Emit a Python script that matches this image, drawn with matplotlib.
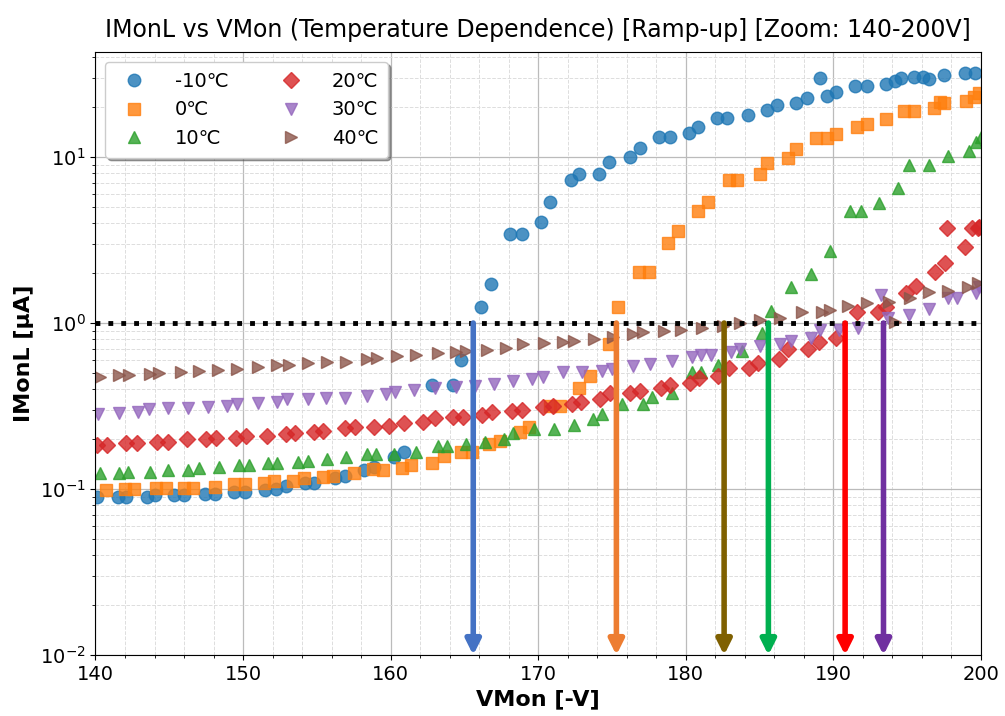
import matplotlib
matplotlib.use("Agg")
import matplotlib.pyplot as plt
from matplotlib.ticker import AutoMinorLocator

# -10C
v_m10 = [140.07, 141.5, 142.1, 143.5, 144.06, 145.3, 146.0, 147.4, 148.1, 149.4, 150.1, 151.5, 152.2, 152.9,
         154.2, 154.8, 156.2, 156.9, 158.2, 158.9, 160.2, 160.9, 162.8, 164.2, 164.8, 166.1, 166.8, 168.1,
         168.9, 170.2, 170.8, 172.2, 172.8, 174.1, 174.8, 176.2, 176.9, 178.2, 178.9, 180.2, 180.8, 182.1,
         182.8, 184.2, 185.5, 186.2, 187.5, 188.2, 189.1, 189.6, 190.2, 191.5, 192.3, 193.6, 194.2, 194.6,
         195.5, 196.1, 196.5, 197.5, 198.9, 199.6]
i_m10 = [0.0895, 0.0895, 0.0895, 0.0895, 0.092, 0.092, 0.092, 0.0933, 0.0933, 0.096, 0.096, 0.099, 0.100, 0.104,
         0.109, 0.109, 0.116, 0.120, 0.130, 0.136, 0.156, 0.167, 0.423, 0.423, 0.598, 1.25, 1.72, 3.44,
         3.44, 4.06, 5.36, 7.27, 7.9, 7.9, 9.3, 10.0, 11.3, 13.2, 13.2, 13.9, 15.1, 17.2,
         17.2, 17.9, 19.2, 20.5, 21.1, 22.7, 29.9, 23.3, 24.7, 26.8, 26.8, 27.5, 28.7, 29.9,
         30.4, 30.4, 29.6, 31.2, 32.1, 32.1]

# 0C
v_0 = [140.7, 142.0, 142.6, 144.1, 144.8, 146.0, 146.6, 148.1, 149.4, 150.1, 151.4, 152.1, 153.4, 154.1,
       155.4, 156.1, 157.5, 158.8, 159.5, 160.8, 161.4, 162.8, 163.6, 164.8, 165.5, 166.7, 167.4, 168.8,
       169.4, 170.8, 171.5, 172.8, 173.5, 174.8, 175.4, 176.8, 177.5, 178.8, 179.5, 180.8, 181.5, 182.9,
       183.5, 185.0, 185.5, 186.9, 187.5, 188.8, 189.6, 190.2, 191.6, 192.3, 193.6, 194.8, 195.5, 196.8,
       197.2, 197.5, 199.0, 199.5, 199.9]
i_0 = [0.0986, 0.100, 0.100, 0.101, 0.101, 0.101, 0.101, 0.103, 0.107, 0.107, 0.109, 0.112, 0.112, 0.116,
       0.118, 0.120, 0.125, 0.132, 0.130, 0.134, 0.139, 0.144, 0.158, 0.167, 0.167, 0.187, 0.195, 0.221,
       0.236, 0.316, 0.316, 0.406, 0.479, 0.747, 1.25, 2.03, 2.03, 3.03, 3.59, 4.73, 5.36, 7.27,
       7.27, 7.9, 9.2, 9.9, 11.2, 13.0, 13.0, 13.8, 15.1, 15.8, 16.9, 18.9, 18.9, 19.7,
       21.5, 21.1, 21.7, 23.0, 24.3]

# 10C
v_10 = [140.3, 141.6, 142.2, 143.7, 144.9, 146.3, 147.0, 148.4, 149.7, 150.4, 151.7, 152.3, 153.7, 154.4,
        155.7, 157.0, 158.4, 159.0, 160.2, 161.7, 163.2, 163.8, 165.1, 166.4, 167.7, 168.3, 169.7, 171.1,
        172.4, 173.7, 174.3, 175.7, 177.1, 177.7, 179.1, 180.4, 181.0, 182.2, 183.8, 185.2, 185.8, 187.1,
        188.5, 189.8, 191.1, 191.9, 193.1, 194.4, 195.1, 196.5, 197.8, 199.2, 199.7, 200.0]
i_10 = [0.125, 0.125, 0.127, 0.127, 0.130, 0.130, 0.134, 0.136, 0.140, 0.140, 0.143, 0.143, 0.146, 0.148,
        0.152, 0.156, 0.162, 0.162, 0.162, 0.167, 0.182, 0.182, 0.187, 0.192, 0.200, 0.218, 0.230, 0.230,
        0.243, 0.264, 0.283, 0.325, 0.325, 0.358, 0.379, 0.507, 0.507, 0.558, 0.678, 0.87, 1.18, 1.65,
        1.97, 2.71, 4.73, 4.73, 5.28, 6.5, 8.95, 8.95, 10.1, 10.8, 12.3, 13.2]

# 20C
v_20 = [140.1, 140.8, 142.1, 142.8, 144.2, 144.9, 146.2, 147.5, 148.2, 149.5, 150.2, 151.6, 152.9, 153.5,
        154.8, 155.4, 156.9, 157.6, 158.9, 159.9, 160.9, 162.2, 163.0, 164.2, 164.9, 166.2, 166.9, 168.2,
        168.9, 170.3, 171.0, 172.3, 172.9, 174.2, 174.9, 176.2, 176.9, 178.3, 178.9, 180.3, 180.9, 182.2,
        182.9, 184.3, 184.9, 186.3, 186.9, 188.3, 189.0, 190.2, 191.6, 193.0, 193.6, 194.9, 195.6, 196.9,
        197.6, 197.7, 198.9, 199.4, 199.8, 199.9]
i_20 = [0.184, 0.184, 0.189, 0.189, 0.192, 0.192, 0.200, 0.200, 0.203, 0.203, 0.209, 0.209, 0.214, 0.217,
        0.220, 0.224, 0.233, 0.236, 0.236, 0.240, 0.250, 0.253, 0.268, 0.272, 0.272, 0.279, 0.291, 0.295,
        0.299, 0.312, 0.316, 0.325, 0.334, 0.348, 0.379, 0.379, 0.389, 0.406, 0.423, 0.435, 0.466, 0.479,
        0.536, 0.536, 0.574, 0.607, 0.697, 0.697, 0.768, 0.812, 1.165, 1.165, 1.25, 1.52, 1.67, 2.03,
        2.30, 3.74, 2.87, 3.74, 3.74, 3.79]

# 30C
v_30 = [140.2, 141.6, 142.9, 143.6, 144.9, 146.3, 147.6, 148.9, 149.6, 151.0, 152.3, 153.0, 154.4, 155.6,
        156.9, 158.4, 159.7, 160.3, 161.6, 163.0, 164.4, 165.7, 167.0, 168.3, 169.6, 170.3, 171.7, 173.0,
        174.3, 175.0, 176.4, 177.6, 179.1, 180.4, 181.0, 181.7, 183.1, 183.7, 185.0, 186.4, 187.1, 188.5,
        189.1, 190.4, 191.7, 193.2, 193.7, 195.1, 196.5, 197.8, 198.4, 199.7, 199.9]
i_30 = [0.283, 0.287, 0.291, 0.304, 0.308, 0.308, 0.312, 0.316, 0.325, 0.330, 0.334, 0.348, 0.348, 0.353,
        0.353, 0.363, 0.373, 0.384, 0.395, 0.406, 0.412, 0.418, 0.429, 0.447, 0.460, 0.473, 0.507, 0.507,
        0.514, 0.528, 0.551, 0.566, 0.590, 0.624, 0.641, 0.641, 0.669, 0.697, 0.727, 0.747, 0.779, 0.812,
        0.907, 0.907, 0.933, 1.47, 1.07, 1.12, 1.21, 1.41, 1.41, 1.52, 1.65]

# 40C
v_40 = [140.3, 141.6, 142.3, 143.7, 144.3, 145.8, 147.0, 148.3, 149.6, 151.0, 152.3, 153.1, 154.4, 155.7,
        157.0, 158.4, 159.1, 160.4, 161.7, 163.2, 164.4, 165.1, 166.5, 167.8, 169.0, 170.4, 171.7, 172.4,
        173.8, 175.1, 176.4, 177.1, 178.5, 179.7, 181.1, 182.5, 183.7, 185.0, 186.4, 187.9, 189.2, 189.8,
        191.0, 192.3, 193.8, 194.2, 195.2, 196.5, 197.8, 199.1, 199.8]
i_40 = [0.473, 0.486, 0.486, 0.493, 0.500, 0.507, 0.514, 0.521, 0.528, 0.543, 0.558, 0.558, 0.574, 0.582,
        0.582, 0.607, 0.615, 0.633, 0.641, 0.659, 0.669, 0.678, 0.688, 0.707, 0.747, 0.758, 0.768, 0.779,
        0.801, 0.823, 0.858, 0.883, 0.895, 0.907, 0.933, 0.959, 1.0, 1.04, 1.07, 1.16, 1.16, 1.20,
        1.27, 1.32, 1.34, 1.01, 1.41, 1.54, 1.56, 1.65, 1.74]

labels = ["-10℃", "0℃", "10℃", "20℃", "30℃", "40℃"]
markers = ["o", "s", "^", "D", "v", ">"]
series = [(v_m10, i_m10), (v_0, i_0), (v_10, i_10), (v_20, i_20), (v_30, i_30), (v_40, i_40)]

# breakdown voltages at 1 uA
vbd = [165.6, 175.3, 182.6, 185.6, 190.8, 193.4]
vbd_colors = ["#4472C4", "#ED7D31", "#7F6000", "#00B050", "#FF0000", "#7030A0"]

fig, ax = plt.subplots(figsize=(10.05, 7.16), dpi=100)
fig.subplots_adjust(left=0.095, right=0.976, top=0.927, bottom=0.085)

colors = plt.rcParams['axes.prop_cycle'].by_key()['color']
for k, (v, i) in enumerate(series):
    ms = 8 if markers[k] in ("s", "D") else 9
    ax.plot(v, i, linestyle="none", marker=markers[k], ms=ms, color=colors[k],
            alpha=0.8, label=labels[k])

ax.axhline(1.0, color="black", linestyle=":", linewidth=3.5)

for x, c in zip(vbd, vbd_colors):
    ax.annotate("", xy=(x, 0.01), xytext=(x, 1.0),
                arrowprops=dict(arrowstyle="-|>", color=c, lw=4, mutation_scale=22,
                                shrinkA=0, shrinkB=0))

ax.set_yscale("log")
ax.set_xlim(140, 200)
ax.set_ylim(0.01, 42.7)
ax.xaxis.set_minor_locator(AutoMinorLocator(5))
ax.grid(True, which="major", color="#bbbbbb", linestyle="-", linewidth=0.9)
ax.grid(True, which="minor", color="#dddddd", linestyle="--", linewidth=0.7)
ax.set_axisbelow(True)

ax.set_title("IMonL vs VMon (Temperature Dependence) [Ramp-up] [Zoom: 140-200V]", fontsize=17, pad=11)
ax.set_xlabel("VMon [-V]", fontsize=16, fontweight="bold")
ax.set_ylabel("IMonL [μA]", fontsize=16, fontweight="bold")
ax.tick_params(axis="both", which="major", labelsize=14)

ax.legend(loc="upper left", ncol=2, fontsize=14, frameon=True, fancybox=True, shadow=True,
          columnspacing=2.2, handletextpad=1.1, borderpad=0.5)

fig.savefig("out.png", dpi=100)
